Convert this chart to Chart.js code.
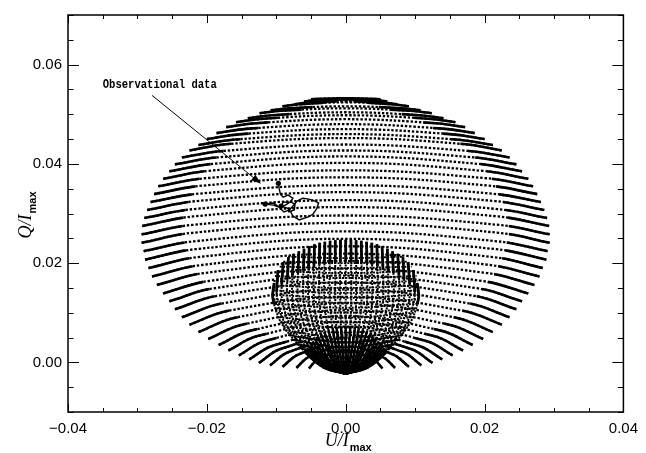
<!DOCTYPE html>
<html>
<head>
<meta charset="utf-8">
<script src="https://cdn.jsdelivr.net/npm/chart.js@4.4.0/dist/chart.umd.min.js"></script>
<style>
  html, body { margin: 0; padding: 0; background: #fff; }
</style>
</head>
<body>
<canvas id="chart" width="646" height="453"></canvas>
<script>
// Axis ticks
const xTicks = [-0.04, -0.02, 0, 0.02, 0.04];
const yTicks = [0, 0.02, 0.04, 0.06];

// Outer family of arcs: end height, half width, shoulder point, top height
const outerEndY = [0.0530, 0.0526, 0.0520, 0.0516, 0.0508, 0.0502, 0.0492, 0.0484, 0.0474, 0.0462, 0.0450, 0.0438, 0.0427, 0.0413, 0.0399, 0.0385, 0.0370, 0.0355, 0.0339, 0.0323, 0.0307, 0.0291, 0.0275, 0.0258, 0.0241, 0.0224, 0.0207, 0.0190, 0.0173, 0.0156, 0.0139, 0.0123, 0.0107, 0.0091, 0.0076, 0.0061, 0.0047, 0.0035, 0.0024, 0.0014, 0.0006, -0.0001, -0.0006, -0.0009, -0.0011, -0.0012];
const outerHalfW = [0.0050, 0.0060, 0.0074, 0.0091, 0.0108, 0.0124, 0.0141, 0.0158, 0.0172, 0.0186, 0.0200, 0.0212, 0.0225, 0.0236, 0.0246, 0.0254, 0.0263, 0.0270, 0.0276, 0.0281, 0.0286, 0.0290, 0.0293, 0.0294, 0.0294, 0.0291, 0.0289, 0.0284, 0.0279, 0.0272, 0.0263, 0.0254, 0.0246, 0.0236, 0.0225, 0.0212, 0.0198, 0.0183, 0.0169, 0.0154, 0.0139, 0.0125, 0.0109, 0.0091, 0.0071, 0.0053];
const outerShoulderX = [0.0038, 0.0045, 0.0056, 0.0068, 0.0081, 0.0093, 0.0106, 0.0119, 0.0129, 0.0140, 0.0150, 0.0159, 0.0169, 0.0177, 0.0185, 0.0191, 0.0197, 0.0203, 0.0207, 0.0211, 0.0215, 0.0218, 0.0220, 0.0221, 0.0221, 0.0218, 0.0217, 0.0213, 0.0209, 0.0204, 0.0197, 0.0191, 0.0185, 0.0177, 0.0169, 0.0159, 0.0149, 0.0137, 0.0127, 0.0116, 0.0104, 0.0094, 0.0082, 0.0068, 0.0053, 0.0040];
const outerShoulderY = [0.0531, 0.0528, 0.0523, 0.0520, 0.0512, 0.0507, 0.0498, 0.0491, 0.0482, 0.0471, 0.0460, 0.0449, 0.0440, 0.0426, 0.0413, 0.0400, 0.0386, 0.0371, 0.0356, 0.0340, 0.0325, 0.0309, 0.0294, 0.0277, 0.0261, 0.0244, 0.0228, 0.0212, 0.0196, 0.0180, 0.0164, 0.0149, 0.0134, 0.0119, 0.0104, 0.0090, 0.0076, 0.0064, 0.0053, 0.0043, 0.0034, 0.0027, 0.0021, 0.0016, 0.0011, 0.0006];
const outerTopY = [0.0532, 0.0530, 0.0526, 0.0524, 0.0516, 0.0512, 0.0504, 0.0498, 0.0490, 0.0480, 0.0470, 0.0460, 0.0452, 0.0439, 0.0427, 0.0415, 0.0402, 0.0387, 0.0373, 0.0357, 0.0343, 0.0327, 0.0313, 0.0296, 0.0281, 0.0264, 0.0249, 0.0234, 0.0219, 0.0204, 0.0189, 0.0175, 0.0161, 0.0147, 0.0132, 0.0119, 0.0105, 0.0093, 0.0082, 0.0072, 0.0062, 0.0055, 0.0048, 0.0041, 0.0033, 0.0024];

// Inner family: meridians from the top edge down to the pole
const meridianTopX = [-0.0103, -0.00975, -0.009, -0.00825, -0.0075, -0.00675, -0.006, -0.00525, -0.0045, -0.00375, -0.003, -0.00225, -0.0015, -0.00075, 0, 0.00075, 0.0015, 0.00225, 0.003, 0.00375, 0.0045, 0.00525, 0.006, 0.00675, 0.0075, 0.00825, 0.009, 0.00975, 0.0103];
const meridianTopY = [0.0160, 0.0186, 0.0202, 0.0212, 0.0219, 0.0224, 0.0229, 0.0234, 0.0238, 0.0241, 0.0243, 0.0245, 0.0246, 0.0247, 0.0247, 0.0247, 0.0246, 0.0245, 0.0243, 0.0241, 0.0238, 0.0234, 0.0229, 0.0224, 0.0219, 0.0212, 0.0202, 0.0186, 0.0160];
const meridianBulgeX = [-0.0105, -0.0099, -0.0092, -0.0084, -0.0077, -0.0069, -0.0061, -0.0054, -0.0046, -0.0038, -0.0031, -0.0023, -0.0015, -0.0008, 0, 0.0008, 0.0015, 0.0023, 0.0031, 0.0038, 0.0046, 0.0054, 0.0061, 0.0069, 0.0077, 0.0084, 0.0092, 0.0099, 0.0105];
const meridianMidX = [-0.0093, -0.0088, -0.0081, -0.0074, -0.0068, -0.0061, -0.0054, -0.0047, -0.0041, -0.0034, -0.0027, -0.0020, -0.0014, -0.0007, 0, 0.0007, 0.0014, 0.0020, 0.0027, 0.0034, 0.0041, 0.0047, 0.0054, 0.0061, 0.0068, 0.0074, 0.0081, 0.0088, 0.0093];
const meridianLowX = [-0.0056, -0.0053, -0.0049, -0.0045, -0.0041, -0.0037, -0.0033, -0.0029, -0.0024, -0.0020, -0.0016, -0.0012, -0.0008, -0.0004, 0, 0.0004, 0.0008, 0.0012, 0.0016, 0.0020, 0.0024, 0.0029, 0.0033, 0.0037, 0.0041, 0.0045, 0.0049, 0.0053, 0.0056];
const meridianBottomX = [-0.0031, -0.0029, -0.0027, -0.0025, -0.0023, -0.0020, -0.0018, -0.0016, -0.0013, -0.0011, -0.0009, -0.0007, -0.0004, -0.0002, 0, 0.0002, 0.0004, 0.0007, 0.0009, 0.0011, 0.0013, 0.0016, 0.0018, 0.0020, 0.0023, 0.0025, 0.0027, 0.0029, 0.0031];
const meridianLevelsY = [0.0130, 0.0080, 0.0017, -0.0011];
const innerPole = [0, -0.0023];

// Inner family: parallels across the small dome
const rowCenterY = [0.021, 0.020, 0.019, 0.018, 0.017, 0.016, 0.015, 0.014, 0.013, 0.012, 0.011, 0.010, 0.009, 0.008, 0.007, 0.006, 0.005, 0.004, 0.003, 0.002, 0.001, 0.000, -0.001];
const rowEndY = [0.0213, 0.0203, 0.0193, 0.0184, 0.0174, 0.0164, 0.0155, 0.0145, 0.0136, 0.0127, 0.0118, 0.0109, 0.0100, 0.0091, 0.0082, 0.0073, 0.0064, 0.0055, 0.0046, 0.0037, 0.0028, 0.0019, 0.0009];
const rowHalfW = [0.0083, 0.0090, 0.0095, 0.0099, 0.0102, 0.0104, 0.0105, 0.0105, 0.0105, 0.0104, 0.0102, 0.0100, 0.0098, 0.0096, 0.0094, 0.0090, 0.0087, 0.0083, 0.0078, 0.0072, 0.0064, 0.0057, 0.0047];

// Observational data track
const obsX = [-0.0097, -0.0096, -0.0094, -0.0090, -0.0083, -0.0076, -0.0080, -0.0087, -0.0097, -0.0104, -0.0116, -0.0104, -0.0096, -0.0089, -0.0081, -0.0076, -0.0070, -0.0062, -0.0053, -0.0044, -0.0039, -0.0042, -0.0047, -0.0054, -0.0067, -0.0076, -0.0080, -0.0084, -0.0093, -0.0090, -0.0079, -0.0073, -0.0074, -0.0083];
const obsY = [0.0361, 0.0351, 0.0339, 0.0333, 0.0337, 0.0331, 0.0323, 0.0317, 0.0313, 0.0317, 0.0319, 0.0321, 0.0313, 0.0303, 0.0307, 0.0315, 0.0325, 0.0331, 0.0329, 0.0325, 0.0321, 0.0309, 0.0299, 0.0293, 0.0287, 0.0295, 0.0305, 0.0311, 0.0315, 0.0323, 0.0323, 0.0319, 0.0307, 0.0303];

// Annotation
const noteText = "Observational data";
const notePos = [-0.0350, 0.0558];
const arrowFrom = [-0.0279, 0.0538];
const arrowTo = [-0.0122, 0.0360];

const datasets = [];

function addCurve(points, style) {
  datasets.push(Object.assign({
    data: points,
    showLine: true,
    pointRadius: 0,
    borderColor: "#000",
    backgroundColor: "#000",
    fill: false,
    tension: 0.4,
  }, style));
}

// outer arcs: dotted body plus solid ends (dense sampling at the ends)
outerEndY.forEach((endY, i) => {
  const pts = [
    { x: -outerHalfW[i], y: endY },
    { x: -outerShoulderX[i], y: outerShoulderY[i] },
    { x: 0, y: outerTopY[i] },
    { x: outerShoulderX[i], y: outerShoulderY[i] },
    { x: outerHalfW[i], y: endY },
  ];
  addCurve(pts, { borderWidth: 2.3, borderDash: [2.4, 1.8] });
  addCurve(pts, { borderWidth: 2.6, borderDash: [42, 5000] });
  addCurve(pts.slice().reverse(), { borderWidth: 2.6, borderDash: [42, 5000] });
});

// inner meridians
meridianTopX.forEach((topX, i) => {
  const pts = [
    { x: topX, y: meridianTopY[i] },
    { x: meridianBulgeX[i], y: meridianLevelsY[0] },
    { x: meridianMidX[i], y: meridianLevelsY[1] },
    { x: meridianLowX[i], y: meridianLevelsY[2] },
    { x: meridianBottomX[i], y: meridianLevelsY[3] },
    { x: innerPole[0], y: innerPole[1] },
  ];
  addCurve(pts, { borderWidth: 2, borderDash: [2, 1.1], tension: 0.3 });
  addCurve(pts, { borderWidth: 2.8, borderDash: [22, 5000], tension: 0.3 });
  addCurve(pts.slice().reverse(), { borderWidth: 2.4, borderDash: [48, 5000], tension: 0.3 });
});

// inner parallels (the lowest ones are sampled so densely they read as solid)
rowCenterY.forEach((cy, i) => {
  addCurve([
    { x: -rowHalfW[i], y: rowEndY[i] },
    { x: 0, y: cy },
    { x: rowHalfW[i], y: rowEndY[i] },
  ], { borderWidth: 1.9, borderDash: cy < 0.0045 ? [] : [2, 1.2] });
});

// observational data
datasets.push({
  data: obsX.map((x, i) => ({ x: x, y: obsY[i] })),
  showLine: true,
  borderColor: "#000",
  backgroundColor: "#000",
  borderWidth: 1.4,
  tension: 0,
  pointRadius: obsX.map((x, i) => (i === 0 || i === 10 || i === 28 ? 2.6 : 0)),
  pointBorderWidth: 0,
});

function formatTick(v) {
  if (Math.abs(v) < 1e-9) return "0.00";
  return (v < 0 ? "\u2212" : "") + Math.abs(v).toFixed(2);
}

const decorPlugin = {
  id: "decor",
  afterDraw(chart) {
    const ctx = chart.ctx;
    const a = chart.chartArea;
    const xs = chart.scales.x;
    const ys = chart.scales.y;
    ctx.save();

    // frame and inward ticks on all sides
    ctx.strokeStyle = "#000";
    ctx.lineWidth = 1.5;
    ctx.strokeRect(a.left, a.top, a.right - a.left, a.bottom - a.top);
    ctx.lineWidth = 1;
    ctx.beginPath();
    for (let k = 0; k <= 16; k++) {
      const v = xs.min + k * 0.005;
      const px = Math.round(xs.getPixelForValue(v)) + 0.5;
      const len = k % 4 === 0 ? 8 : 4;
      ctx.moveTo(px, a.bottom);
      ctx.lineTo(px, a.bottom - len);
      ctx.moveTo(px, a.top);
      ctx.lineTo(px, a.top + len);
    }
    for (let k = 0; k <= 16; k++) {
      const v = ys.min + k * 0.005;
      const py = Math.round(ys.getPixelForValue(v)) + 0.5;
      const len = k % 4 === 2 ? 11 : 5.5;
      ctx.moveTo(a.left, py);
      ctx.lineTo(a.left + len, py);
      ctx.moveTo(a.right, py);
      ctx.lineTo(a.right - len, py);
    }
    ctx.stroke();

    // annotation with arrow
    ctx.fillStyle = "#000";
    ctx.font = "bold 12px 'Liberation Mono', 'DejaVu Sans Mono', monospace";
    ctx.textBaseline = "middle";
    ctx.textAlign = "left";
    ctx.fillText(noteText, xs.getPixelForValue(notePos[0]), ys.getPixelForValue(notePos[1]), 114);

    const x0 = xs.getPixelForValue(arrowFrom[0]);
    const y0 = ys.getPixelForValue(arrowFrom[1]);
    const x1 = xs.getPixelForValue(arrowTo[0]);
    const y1 = ys.getPixelForValue(arrowTo[1]);
    const ang = Math.atan2(y1 - y0, x1 - x0);
    const head = 10;
    ctx.lineWidth = 1;
    ctx.beginPath();
    ctx.moveTo(x0, y0);
    ctx.lineTo(x1 - Math.cos(ang) * head * 0.8, y1 - Math.sin(ang) * head * 0.8);
    ctx.stroke();
    ctx.beginPath();
    ctx.moveTo(x1, y1);
    ctx.lineTo(x1 - head * Math.cos(ang) + 3.5 * Math.sin(ang), y1 - head * Math.sin(ang) - 3.5 * Math.cos(ang));
    ctx.lineTo(x1 - head * Math.cos(ang) - 3.5 * Math.sin(ang), y1 - head * Math.sin(ang) + 3.5 * Math.cos(ang));
    ctx.closePath();
    ctx.fill();

    // axis titles with subscripts
    const mainFont = "italic 18px 'Liberation Serif', 'Times New Roman', serif";
    const subFont = "bold 11px 'Liberation Sans', Arial, sans-serif";
    ctx.textBaseline = "alphabetic";
    ctx.textAlign = "left";
    ctx.font = mainFont;
    const xMainW = ctx.measureText("U/I").width;
    ctx.font = subFont;
    const subW = ctx.measureText("max").width;
    const xStart = (a.left + a.right) / 2 - (xMainW + subW) / 2 + 2;
    ctx.font = mainFont;
    ctx.fillText("U/I", xStart, 446);
    ctx.font = subFont;
    ctx.fillText("max", xStart + xMainW + 1, 451);

    ctx.save();
    ctx.translate(31, (a.top + a.bottom) / 2 + 2);
    ctx.rotate(-Math.PI / 2);
    ctx.font = mainFont;
    const yMainW = ctx.measureText("Q/I").width;
    ctx.fillText("Q/I", -(yMainW + subW) / 2, 0);
    ctx.font = subFont;
    ctx.fillText("max", -(yMainW + subW) / 2 + yMainW + 1, 5);
    ctx.restore();

    ctx.restore();
  },
};

const tickFont = { family: "'Liberation Sans', Arial, sans-serif", size: 15 };

new Chart(document.getElementById("chart"), {
  type: "scatter",
  data: { datasets: datasets },
  options: {
    responsive: false,
    animation: false,
    events: [],
    layout: { padding: { top: 12, right: 15, left: 0, bottom: 0 } },
    plugins: { legend: { display: false }, tooltip: { enabled: false } },
    scales: {
      x: {
        type: "linear",
        min: -0.04,
        max: 0.04,
        grid: { display: false, drawTicks: false },
        border: { display: false },
        afterBuildTicks: (scale) => { scale.ticks = xTicks.map((v) => ({ value: v })); },
        afterFit: (scale) => { scale.height = 41; },
        ticks: { padding: 8, color: "#000", font: tickFont, maxRotation: 0, callback: formatTick },
      },
      y: {
        type: "linear",
        min: -0.01,
        max: 0.07,
        grid: { display: false, drawTicks: false },
        border: { display: false },
        afterBuildTicks: (scale) => { scale.ticks = yTicks.map((v) => ({ value: v })); },
        afterFit: (scale) => { scale.width = 68; },
        ticks: { padding: 6, color: "#000", font: tickFont, callback: formatTick },
      },
    },
  },
  plugins: [decorPlugin],
});
</script>
</body>
</html>
